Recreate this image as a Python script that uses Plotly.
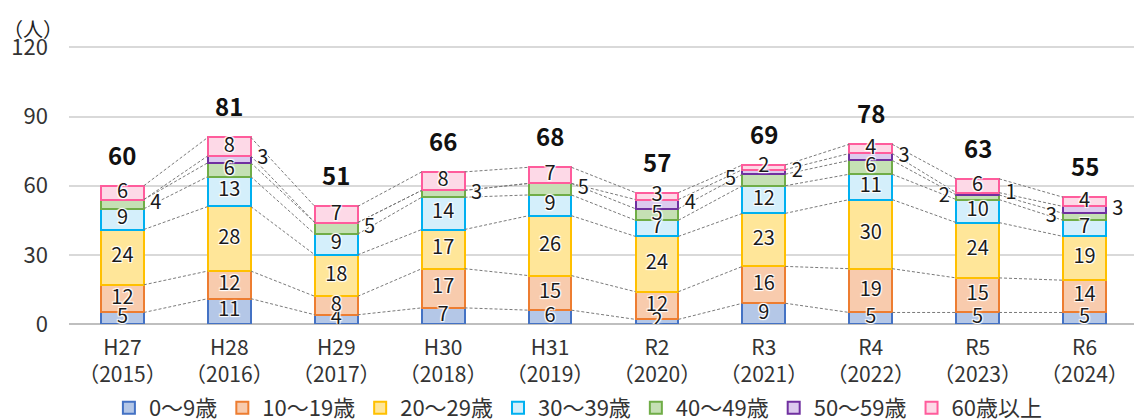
import plotly.graph_objects as go

categories = ["H27<br>（2015）", "H28<br>（2016）", "H29<br>（2017）", "H30<br>（2018）", "H31<br>（2019）",
              "R2<br>（2020）", "R3<br>（2021）", "R4<br>（2022）", "R5<br>（2023）", "R6<br>（2024）"]
series_names = ["0～9歳", "10～19歳", "20～29歳", "30～39歳", "40～49歳", "50～59歳", "60歳以上"]

age_0_9 = [5, 11, 4, 7, 6, 2, 9, 5, 5, 5]
age_10_19 = [12, 12, 8, 17, 15, 12, 16, 19, 15, 14]
age_20_29 = [24, 28, 18, 17, 26, 24, 23, 30, 24, 19]
age_30_39 = [9, 13, 9, 14, 9, 7, 12, 11, 10, 7]
age_40_49 = [4, 6, 5, 3, 5, 5, 5, 6, 2, 3]
age_50_59 = [0, 3, 0, 0, 0, 4, 2, 3, 1, 3]
age_60_plus = [6, 8, 7, 8, 7, 3, 2, 4, 6, 4]

y_ticks = [0, 30, 60, 90, 120]

# style
fills = ["#b4c7e7", "#f8cbad", "#ffe699", "#d4effb", "#c5e0b4", "#dccaee", "#fdd9e7"]
borders = ["#4472c4", "#ed7d31", "#ffc000", "#00b0f0", "#70ad47", "#7030a0", "#ff5c9c"]
FONT = "Noto Sans CJK JP, Noto Sans, sans-serif"
BAR_W = 0.4
# labels drawn outside the bar: (category index, series index) -> side
outside_labels = {(0, 4): "r", (1, 5): "r", (2, 4): "r", (3, 4): "r", (4, 4): "r",
                  (5, 5): "r", (6, 4): "l", (6, 5): "r", (7, 5): "r",
                  (8, 4): "l", (8, 5): "r", (9, 4): "l", (9, 5): "r"}

series = [age_0_9, age_10_19, age_20_29, age_30_39, age_40_49, age_50_59, age_60_plus]
n = len(categories)
xs = list(range(n))

fig = go.Figure()

# cumulative tops
cum = []
running = [0] * n
for s in series:
    running = [r + v for r, v in zip(running, s)]
    cum.append(running[:])
totals = cum[-1]

# series lines (dashed connectors)
for k in range(len(series)):
    lx, ly = [], []
    for i in range(n - 1):
        lx += [i + BAR_W / 2, i + 1 - BAR_W / 2, None]
        ly += [cum[k][i], cum[k][i + 1], None]
    fig.add_trace(go.Scatter(x=lx, y=ly, mode="lines", showlegend=False, hoverinfo="skip",
                             line=dict(color="#7a7a7a", width=1, dash="3px,2px")))

for k, (name, s) in enumerate(zip(series_names, series)):
    fig.add_trace(go.Bar(x=xs, y=s, name=name, width=BAR_W,
                         marker=dict(color=fills[k], line=dict(color=borders[k], width=2))))

shadow = "1px 1px 1px white, -1px -1px 1px white, 1px -1px 1px white, -1px 1px 1px white"

# segment labels
in_x, in_y, in_t = [], [], []
r_x, r_y, r_t = [], [], []
l_x, l_y, l_t = [], [], []
for k, s in enumerate(series):
    for i in range(n):
        v = s[i]
        if v == 0:
            continue
        mid = cum[k][i] - v / 2
        side = outside_labels.get((i, k))
        if side == "r":
            r_x.append(i + BAR_W / 2 + 0.06); r_y.append(mid); r_t.append(str(v))
        elif side == "l":
            l_x.append(i - BAR_W / 2 - 0.06); l_y.append(mid); l_t.append(str(v))
        else:
            in_x.append(i); in_y.append(mid); in_t.append(str(v))

lab_font = dict(family=FONT, size=20, color="#1a1a1a", shadow=shadow)
fig.add_trace(go.Scatter(x=in_x, y=in_y, text=in_t, mode="text", textposition="middle center",
                         textfont=lab_font, showlegend=False, hoverinfo="skip"))
fig.add_trace(go.Scatter(x=r_x, y=r_y, text=r_t, mode="text", textposition="middle right",
                         textfont=lab_font, showlegend=False, hoverinfo="skip"))
fig.add_trace(go.Scatter(x=l_x, y=l_y, text=l_t, mode="text", textposition="middle left",
                         textfont=lab_font, showlegend=False, hoverinfo="skip"))

# totals
for i in range(n):
    fig.add_annotation(x=i, y=totals[i], text=f"<b>{totals[i]}</b>", showarrow=False,
                       yanchor="bottom", yshift=12,
                       font=dict(family=FONT, size=24, color="#111111"))

fig.add_annotation(xref="paper", yref="paper", x=-0.0336, y=1.0, yshift=16, text="（人）",
                   showarrow=False, xanchor="center", yanchor="middle",
                   font=dict(family=FONT, size=20, color="#222222"))

fig.update_layout(
    width=1134, height=419,
    margin=dict(l=60.5, r=3.5, t=36, b=103, autoexpand=False),
    paper_bgcolor="white", plot_bgcolor="white",
    barmode="stack", bargap=0.6,
    font=dict(family=FONT, color="#333333"),
    legend=dict(orientation="h", xref="container", x=0.503, xanchor="center",
                yref="container", y=0.0453, yanchor="middle",
                font=dict(family=FONT, size=22, color="#333333"),
                itemwidth=30, traceorder="normal"),
    showlegend=True,
)
fig.update_xaxes(range=[-0.5, n - 0.5], tickvals=xs, ticktext=categories, showgrid=False,
                 zeroline=False, showline=False, ticks="", automargin=False,
                 ticklabelstandoff=9,
                 tickfont=dict(family=FONT, size=21, color="#333333"))
fig.update_yaxes(range=[0, 121.5], tickvals=y_ticks, showgrid=True, gridcolor="#d9d9d9", gridwidth=1.5,
                 zeroline=True, zerolinecolor="#bfbfbf", zerolinewidth=2, ticks="",
                 ticklabelstandoff=20, automargin=False,
                 tickfont=dict(family=FONT, size=22, color="#333333"))

fig.write_html("out.html")
